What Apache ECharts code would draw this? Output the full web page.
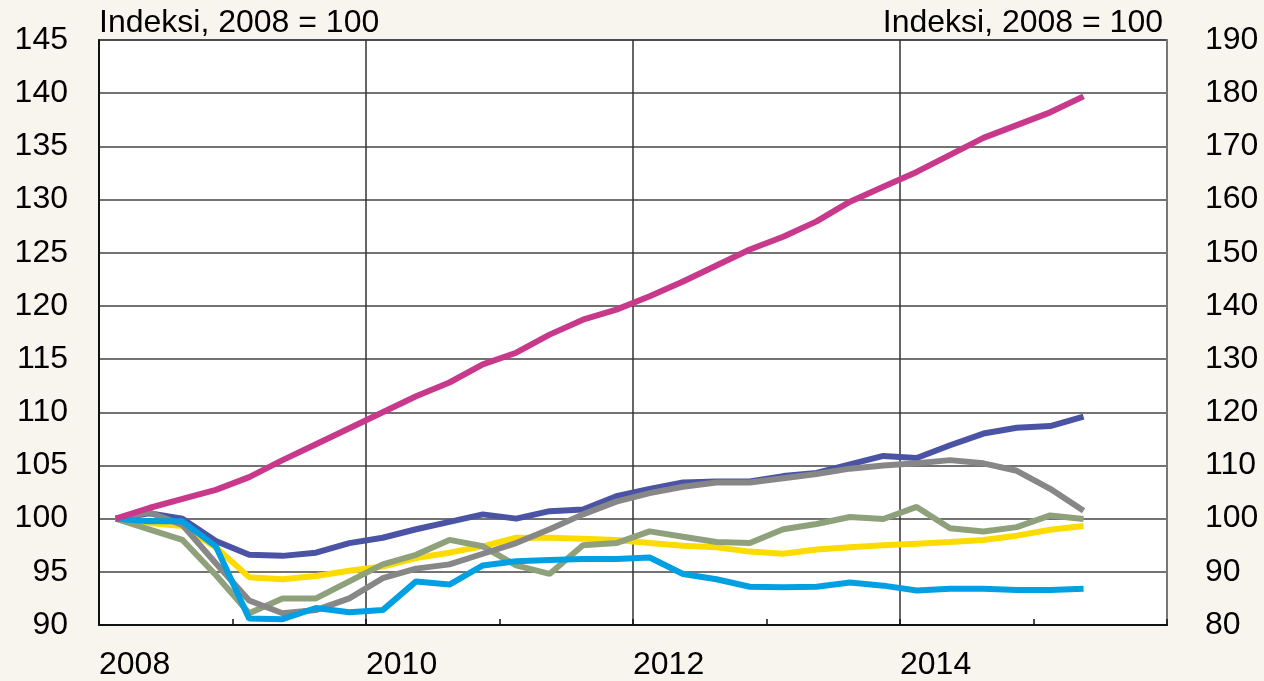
<!DOCTYPE html>
<html>
<head>
<meta charset="utf-8">
<script src="https://cdn.jsdelivr.net/npm/echarts@6/dist/echarts.min.js"></script>
<style>
  html, body { margin:0; padding:0; background:#f8f4ee; }
  #chart { width:1264px; height:681px; }
</style>
</head>
<body>
<div id="chart"></div>
<script>
// neljännesvuodet 2008K1 ... 2015K2
var startYear = 2008;
var quarterCount = 30;
var quarters = [];
for (var q = 0; q < quarterCount; q++) {
  quarters.push(startYear + Math.floor(q / 4) + ((q % 4) + 0.5) / 4);
}

// vasen asteikko
var yellowLine = [100, 99.6, 99.3, 97.3, 94.5, 94.3, 94.6, 95.1, 95.5, 96.3, 96.8, 97.4, 98.2, 98.2, 98.1, 98.0,
  97.7, 97.45, 97.3, 96.9, 96.7, 97.1, 97.3, 97.5, 97.65, 97.8, 98.0, 98.4, 98.95, 99.3];
var darkBlueLine = [100, 100.5, 100.0, 97.9, 96.6, 96.5, 96.8, 97.7, 98.2, 99.0, 99.7, 100.4, 100.0, 100.7, 100.85, 102.1,
  102.8, 103.4, 103.5, 103.5, 104.0, 104.3, 105.1, 105.9, 105.7, 106.9, 108.0, 108.55, 108.7, 109.6];
var greenLine = [100, 99.0, 98.0, 94.7, 91.1, 92.5, 92.5, 94.1, 95.7, 96.6, 98.0, 97.4, 95.6, 94.8, 97.5, 97.7,
  98.8, 98.3, 97.8, 97.7, 99.0, 99.5, 100.15, 99.97, 101.1, 99.1, 98.8, 99.2, 100.3, 99.97];
var greyLine = [100, 100.6, 99.4, 95.8, 92.3, 91.1, 91.4, 92.5, 94.4, 95.3, 95.7, 96.7, 97.7, 99.0, 100.4, 101.6,
  102.4, 103.0, 103.4, 103.4, 103.8, 104.2, 104.7, 105.0, 105.2, 105.5, 105.2, 104.5, 102.8, 100.75];
var lightBlueLine = [100, 99.75, 99.75, 97.4, 90.6, 90.55, 91.6, 91.2, 91.4, 94.1, 93.8, 95.6, 96.0, 96.1, 96.2, 96.2,
  96.35, 94.8, 94.3, 93.6, 93.55, 93.6, 94.0, 93.7, 93.25, 93.4, 93.4, 93.3, 93.3, 93.4];
// oikea asteikko
var magentaLine = [100, 102, 103.7, 105.4, 107.8, 111, 114, 117, 120, 123, 125.6, 129, 131.2, 134.6, 137.4, 139.3,
  141.8, 144.6, 147.6, 150.6, 153, 155.9, 159.6, 162.4, 165.2, 168.4, 171.6, 174, 176.4, 179.4];

var axisName = 'Indeksi, 2008 = 100';
var fontFamily = 'Liberation Sans, Arial, sans-serif';
var fontSize = 32;

function pairs(values) {
  var out = [];
  for (var i = 0; i < values.length; i++) out.push([quarters[i], values[i]]);
  return out;
}

function line(name, color, values, yIndex) {
  return {
    name: name,
    type: 'line',
    yAxisIndex: yIndex,
    data: pairs(values),
    symbol: 'none',
    lineStyle: { color: color, width: 6 },
    itemStyle: { color: color },
    animation: false
  };
}

var chart = echarts.init(document.getElementById('chart'));
chart.setOption({
  backgroundColor: '#f8f4ee',
  textStyle: { fontFamily: fontFamily },
  grid: {
    left: 99, right: 97, top: 40, bottom: 56,
    show: true, backgroundColor: '#ffffff', borderColor: '#333', borderWidth: 1.5
  },
  xAxis: {
    type: 'value',
    min: 2008, max: 2016, interval: 2,
    axisLine: { show: true, lineStyle: { color: '#111', width: 2 } },
    axisTick: { show: true, inside: true, length: 6, lineStyle: { color: '#111', width: 1.5 } },
    minorTick: { show: true, splitNumber: 2, length: 6, lineStyle: { color: '#111', width: 1.5 } },
    splitLine: { show: true, lineStyle: { color: '#333', width: 1.5 } },
    axisLabel: {
      margin: 24, align: 'left', fontSize: fontSize, color: '#000',
      formatter: function (v) { return v === 2016 ? '' : String(v); }
    }
  },
  yAxis: [
    {
      type: 'value', min: 90, max: 145, interval: 5,
      name: axisName, nameLocation: 'end', nameGap: 1,
      nameTextStyle: { align: 'left', verticalAlign: 'bottom', fontSize: fontSize, color: '#000' },
      axisLine: { show: true, lineStyle: { color: '#111', width: 2 } },
      axisTick: { show: false },
      splitLine: { show: true, lineStyle: { color: '#444', width: 1.5 } },
      axisLabel: { margin: 31, fontSize: fontSize, color: '#000' }
    },
    {
      type: 'value', min: 80, max: 190, interval: 10,
      name: axisName, nameLocation: 'end', nameGap: 1,
      nameTextStyle: { align: 'right', verticalAlign: 'bottom', fontSize: fontSize, color: '#000', padding: [0, 4, 0, 0] },
      axisLine: { show: true, lineStyle: { color: '#777', width: 2 } },
      axisTick: { show: false },
      splitLine: { show: false },
      axisLabel: { margin: 38, fontSize: fontSize, color: '#000' }
    }
  ],
  series: [
    line('Keltainen', '#fcdc00', yellowLine, 0),
    line('Tummansininen', '#4a53a4', darkBlueLine, 0),
    line('Vihreä', '#8fa17b', greenLine, 0),
    line('Harmaa', '#878787', greyLine, 0),
    line('Vaaleansininen', '#00a0e2', lightBlueLine, 0),
    line('Magenta', '#c9398b', magentaLine, 1)
  ]
});
</script>
</body>
</html>
